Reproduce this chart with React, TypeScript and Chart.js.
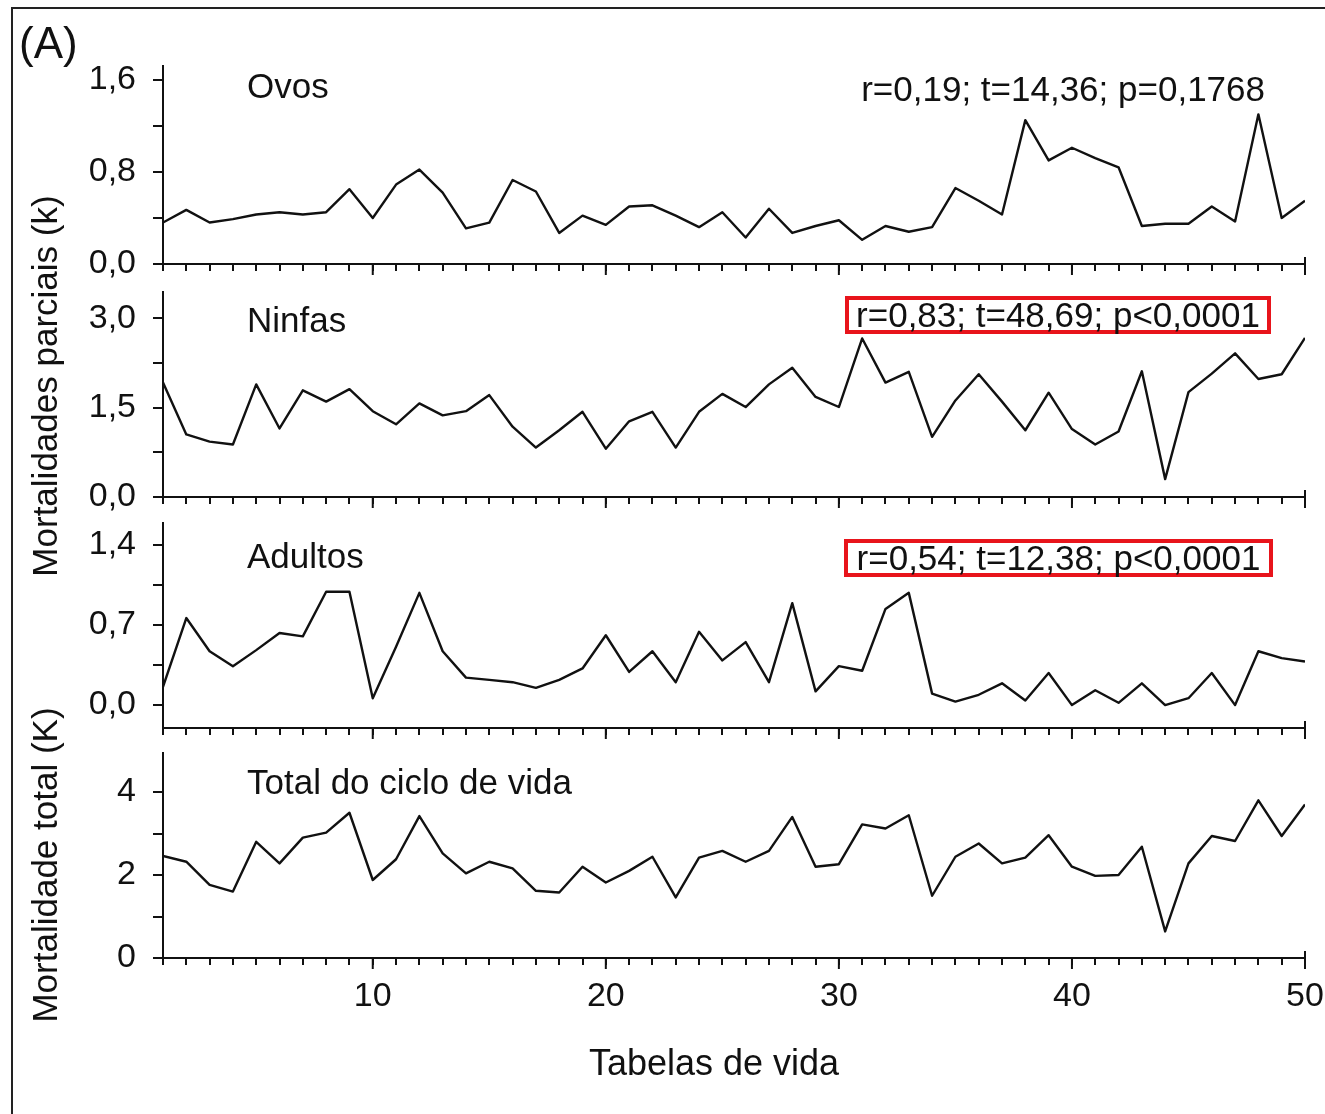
import React, { useEffect, useRef } from 'react';
import { Chart, registerables } from 'chart.js';

Chart.register(...registerables);

// ---------------- data ----------------
const TABLES = [
  1, 2, 3, 4, 5, 6, 7, 8, 9, 10, 11, 12, 13, 14, 15, 16, 17, 18, 19, 20, 21, 22, 23, 24, 25,
  26, 27, 28, 29, 30, 31, 32, 33, 34, 35, 36, 37, 38, 39, 40, 41, 42, 43, 44, 45, 46, 47, 48, 49, 50,
];
const X_LABELED = [10, 20, 30, 40, 50];

const OVOS = [
  0.36, 0.47, 0.36, 0.39, 0.43, 0.45, 0.43, 0.45, 0.65, 0.40,
  0.69, 0.82, 0.62, 0.31, 0.36, 0.73, 0.63, 0.27, 0.42, 0.34,
  0.50, 0.51, 0.42, 0.32, 0.45, 0.23, 0.48, 0.27, 0.33, 0.38,
  0.21, 0.33, 0.28, 0.32, 0.66, 0.55, 0.43, 1.25, 0.90, 1.01,
  0.92, 0.84, 0.33, 0.35, 0.35, 0.50, 0.37, 1.30, 0.40, 0.55,
];
const NINFAS = [
  1.92, 1.05, 0.93, 0.88, 1.89, 1.15, 1.79, 1.60, 1.81, 1.44,
  1.22, 1.57, 1.37, 1.44, 1.71, 1.18, 0.83, 1.12, 1.43, 0.81,
  1.27, 1.43, 0.83, 1.43, 1.73, 1.51, 1.89, 2.17, 1.68, 1.51,
  2.66, 1.92, 2.10, 1.01, 1.62, 2.06, 1.60, 1.12, 1.75, 1.14,
  0.88, 1.10, 2.11, 0.30, 1.76, 2.07, 2.41, 1.98, 2.06, 2.67,
];
const ADULTOS = [
  0.16, 0.76, 0.47, 0.34, 0.48, 0.63, 0.60, 0.99, 0.99, 0.06,
  0.51, 0.98, 0.47, 0.24, 0.22, 0.20, 0.15, 0.22, 0.32, 0.61,
  0.29, 0.47, 0.20, 0.64, 0.39, 0.55, 0.20, 0.89, 0.12, 0.34,
  0.30, 0.84, 0.98, 0.10, 0.03, 0.09, 0.19, 0.04, 0.28, 0.00,
  0.13, 0.02, 0.19, 0.00, 0.06, 0.28, 0.00, 0.47, 0.41, 0.38,
];
const TOTAL = [
  2.46, 2.32, 1.76, 1.60, 2.80, 2.28, 2.90, 3.02, 3.50, 1.88,
  2.38, 3.42, 2.52, 2.04, 2.32, 2.16, 1.62, 1.58, 2.20, 1.82,
  2.10, 2.44, 1.46, 2.42, 2.58, 2.32, 2.58, 3.40, 2.20, 2.26,
  3.22, 3.12, 3.44, 1.50, 2.44, 2.76, 2.28, 2.42, 2.96, 2.20,
  1.98, 2.00, 2.68, 0.64, 2.28, 2.94, 2.82, 3.80, 2.94, 3.70,
];

const OVOS_TICKS = [0, 0.4, 0.8, 1.2, 1.6];
const OVOS_TICK_LABELS = ['0,0', '', '0,8', '', '1,6'];
const NINFAS_TICKS = [0, 0.75, 1.5, 2.25, 3.0];
const NINFAS_TICK_LABELS = ['0,0', '', '1,5', '', '3,0'];
const ADULTOS_TICKS = [0, 0.35, 0.7, 1.05, 1.4];
const ADULTOS_TICK_LABELS = ['0,0', '', '0,7', '', '1,4'];
const TOTAL_TICKS = [0, 1, 2, 3, 4];
const TOTAL_TICK_LABELS = ['0', '', '2', '', '4'];

const PANEL_TITLES = ['Ovos', 'Ninfas', 'Adultos', 'Total do ciclo de vida'];
const STATS = ['r=0,19; t=14,36; p=0,1768', 'r=0,83; t=48,69; p<0,0001', 'r=0,54; t=12,38; p<0,0001'];
const Y_TITLE_PARTIAL = 'Mortalidades parciais (k)';
const Y_TITLE_TOTAL = 'Mortalidade total (K)';
const X_TITLE = 'Tabelas de vida';
const PANEL_TAG = '(A)';

// ---------------- layout ----------------
const W = 1325;
const H = 1114;
const PLOT_LEFT = 163;
const PLOT_RIGHT = 1305;
const PAD_TOP = 20;
const PAD_BOTTOM = 5;
const FONT = '"Liberation Sans", Arial, Helvetica, sans-serif';
const INK = '#111111';

type Panel = {
  data: number[];
  yMin: number;
  yMax: number;
  yTicks: number[];
  yLabels: string[];
  top: number;
  bottom: number;
  showX: boolean;
};

const PANELS: Panel[] = [
  { data: OVOS, yMin: 0, yMax: 1.72, yTicks: OVOS_TICKS, yLabels: OVOS_TICK_LABELS, top: 66, bottom: 264, showX: false },
  { data: NINFAS, yMin: 0, yMax: 3.44, yTicks: NINFAS_TICKS, yLabels: NINFAS_TICK_LABELS, top: 292, bottom: 497, showX: false },
  { data: ADULTOS, yMin: -0.2, yMax: 1.59, yTicks: ADULTOS_TICKS, yLabels: ADULTOS_TICK_LABELS, top: 523, bottom: 728, showX: false },
  { data: TOTAL, yMin: 0, yMax: 4.94, yTicks: TOTAL_TICKS, yLabels: TOTAL_TICK_LABELS, top: 753, bottom: 958, showX: true },
];

const majorTickPlugin = {
  id: 'majorTicks',
  afterDraw(chart: any) {
    const xs = chart.scales.x;
    const ctx = chart.ctx;
    const b = chart.chartArea.bottom;
    ctx.save();
    ctx.strokeStyle = INK;
    ctx.lineWidth = 2;
    X_LABELED.forEach((v) => {
      const px = xs.getPixelForValue(v);
      ctx.beginPath();
      ctx.moveTo(px, v === 50 ? b - 7 : b);
      ctx.lineTo(px, b + 11);
      ctx.stroke();
    });
    ctx.restore();
  },
};

function PanelChart({ p }: { p: Panel }) {
  const ref = useRef<HTMLCanvasElement>(null);
  const xH = p.showX ? 90 : 20;
  const height = PAD_TOP + (p.bottom - p.top) + xH + PAD_BOTTOM;

  useEffect(() => {
    if (!ref.current) return;
    const tickFont = { family: FONT, size: 34 };
    const chart = new Chart(ref.current, {
      type: 'line',
      data: {
        datasets: [
          {
            data: TABLES.map((x, i) => ({ x, y: p.data[i] })),
            borderColor: INK,
            borderWidth: 2.4,
            pointRadius: 0,
            tension: 0,
            borderJoinStyle: 'round',
            fill: false,
          },
        ],
      },
      options: {
        animation: false,
        responsive: false,
        maintainAspectRatio: false,
        events: [],
        layout: { padding: { top: PAD_TOP, left: 0, right: W - PLOT_RIGHT, bottom: PAD_BOTTOM } },
        plugins: { legend: { display: false }, tooltip: { enabled: false }, title: { display: false } },
        scales: {
          x: {
            type: 'linear',
            position: 'bottom',
            min: 1,
            max: 50,
            afterBuildTicks: (s: any) => {
              s.ticks = TABLES.map((v) => ({ value: v }));
            },
            afterFit: (s: any) => {
              s.height = xH;
              s.paddingLeft = 0;
              s.paddingRight = 0;
            },
            grid: {
              display: true,
              drawOnChartArea: false,
              drawTicks: true,
              tickLength: 7,
              tickWidth: 2,
              tickColor: INK,
              lineWidth: 2,
              color: INK,
            },
            border: { display: true, color: INK, width: 2 },
            ticks: {
              autoSkip: false,
              maxRotation: 0,
              minRotation: 0,
              padding: 11,
              color: INK,
              font: tickFont,
              callback: (v: any) => (p.showX && X_LABELED.includes(Number(v)) ? String(v) : ''),
            },
          },
          y: {
            type: 'linear',
            position: 'left',
            min: p.yMin,
            max: p.yMax,
            afterBuildTicks: (s: any) => {
              s.ticks = p.yTicks.map((v) => ({ value: v }));
            },
            afterFit: (s: any) => {
              s.width = PLOT_LEFT;
              s.paddingTop = 0;
              s.paddingBottom = 0;
            },
            grid: {
              display: true,
              drawOnChartArea: false,
              drawTicks: true,
              tickLength: 10,
              tickWidth: 2,
              tickColor: INK,
              lineWidth: 2,
              color: INK,
            },
            border: { display: true, color: INK, width: 2 },
            ticks: {
              padding: 17,
              color: INK,
              font: tickFont,
              callback: (v: any) => {
                const idx = p.yTicks.indexOf(Number(v));
                return idx >= 0 ? p.yLabels[idx] : '';
              },
            },
          },
        },
      },
      plugins: [majorTickPlugin],
    } as any);
    return () => chart.destroy();
  }, []);

  return (
    <canvas
      ref={ref}
      width={W}
      height={height}
      style={{ position: 'absolute', left: 0, top: p.top - PAD_TOP, width: W, height }}
    />
  );
}

const txt = (extra: React.CSSProperties): React.CSSProperties => ({
  position: 'absolute',
  fontFamily: FONT,
  fontSize: 35,
  color: INK,
  whiteSpace: 'nowrap',
  height: 50,
  lineHeight: '50px',
  ...extra,
});

const TITLE_CENTERS = [86, 320, 556, 782];

export default function App() {
  return (
    <div style={{ position: 'absolute', left: 0, top: 0, width: W, height: H, overflow: 'hidden', background: '#fff' }}>
      <div
        style={{
          position: 'absolute',
          left: 11,
          top: 7,
          width: W + 40,
          height: H + 40,
          borderLeft: '2px solid #222',
          borderTop: '2px solid #222',
        }}
      />
      {PANELS.map((p, i) => (
        <PanelChart key={i} p={p} />
      ))}
      <div style={txt({ left: 19, top: 18, fontSize: 44 })}>{PANEL_TAG}</div>
      {PANEL_TITLES.map((t, i) => (
        <div key={t} style={txt({ left: 247, top: TITLE_CENTERS[i] - 25 })}>
          {t}
        </div>
      ))}
      <div style={txt({ right: W - 1265, top: 89 - 25, textAlign: 'right' })}>{STATS[0]}</div>
      <div
        style={{
          position: 'absolute',
          left: 845,
          top: 296,
          width: 426,
          height: 38,
          boxSizing: 'border-box',
          border: '4px solid #e8141b',
        }}
      />
      <div style={txt({ left: 845, width: 426, top: 315 - 25, textAlign: 'center' })}>{STATS[1]}</div>
      <div
        style={{
          position: 'absolute',
          left: 844,
          top: 539,
          width: 429,
          height: 38,
          boxSizing: 'border-box',
          border: '4px solid #e8141b',
        }}
      />
      <div style={txt({ left: 844, width: 429, top: 558 - 25, textAlign: 'center' })}>{STATS[2]}</div>
      <div
        style={txt({
          left: 45,
          top: 386,
          transform: 'translate(-50%, -50%) rotate(-90deg)',
        })}
      >
        {Y_TITLE_PARTIAL}
      </div>
      <div
        style={txt({
          left: 45,
          top: 865,
          transform: 'translate(-50%, -50%) rotate(-90deg)',
        })}
      >
        {Y_TITLE_TOTAL}
      </div>
      <div style={txt({ left: 714, top: 1063, fontSize: 36, transform: 'translate(-50%, -50%)' })}>{X_TITLE}</div>
    </div>
  );
}
